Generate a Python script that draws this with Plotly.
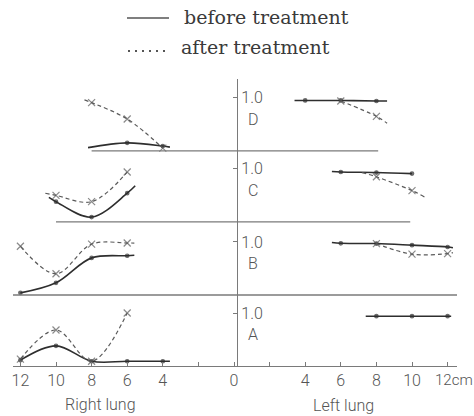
import plotly.graph_objects as go

# ---------------- data (x in cm from midline, y relative to panel baseline, 1.0 = tick) ----------
panels = ["A", "B", "C", "D"]

# Panel A
A_right_before_x = [12, 10, 8, 6, 4, 3.6]
A_right_before_y = [0.11, 0.38, 0.09, 0.09, 0.09, 0.09]
A_right_after_x = [12, 10, 8, 6]
A_right_after_y = [0.13, 0.68, 0.09, 1.0]
A_left_before_x = [7.4, 8, 10, 12, 12.2]
A_left_before_y = [0.94, 0.94, 0.94, 0.94, 0.94]
A_left_after_x = []
A_left_after_y = []

# Panel B
B_right_before_x = [12, 10, 8, 6, 5.6]
B_right_before_y = [0.04, 0.23, 0.70, 0.74, 0.75]
B_right_after_x = [12, 10, 8, 6, 5.6]
B_right_after_y = [0.92, 0.40, 0.96, 0.98, 0.98]
B_left_before_x = [5.5, 6, 8, 10, 12, 12.3]
B_left_before_y = [0.99, 0.975, 0.97, 0.94, 0.905, 0.89]
B_left_after_x = [8, 10, 12, 12.3]
B_left_after_y = [0.97, 0.77, 0.78, 0.80]

# Panel C
C_right_before_x = [10.4, 10, 8, 6, 5.55]
C_right_before_y = [0.46, 0.38, 0.09, 0.54, 0.68]
C_right_after_x = [10.6, 10, 8, 6]
C_right_after_y = [0.54, 0.50, 0.38, 0.94]
C_left_before_x = [5.5, 6, 8, 10]
C_left_before_y = [0.95, 0.94, 0.93, 0.91]
C_left_after_x = [7.2, 8, 10, 10.7]
C_left_after_y = [0.93, 0.85, 0.59, 0.47]

# Panel D
D_right_before_x = [8.2, 6, 4, 3.6]
D_right_before_y = [0.06, 0.15, 0.09, 0.07]
D_right_after_x = [8.4, 8, 6, 4]
D_right_after_y = [0.96, 0.91, 0.60, 0.05]
D_left_before_x = [3.4, 4, 6, 8, 8.6]
D_left_before_y = [0.95, 0.95, 0.95, 0.94, 0.94]
D_left_after_x = [6, 8, 8.6]
D_left_after_y = [0.94, 0.65, 0.52]

# baseline extents (cm): right-lung extent, left-lung extent
baseline_right = {"A": 12.42, "B": 12.42, "C": 10.0, "D": 8.0}
baseline_left = {"A": 12.53, "B": 12.53, "C": 9.9, "D": 8.1}

tick_cm = [-12, -10, -8, -6, -4, -2, 0, 2, 4, 6, 8, 10, 12]
tick_text = ["12", "10", "8", "6", "4", "", "0", "", "4", "6", "8", "10", ""]
last_tick_label = "12cm"

# ---------------- layout constants ----------------
OFFSET = {"A": 0.0, "B": 1.34, "C": 2.72, "D": 4.06}
LINE_DARK = "#2e2e2e"
LINE_DASH = "#5a5a5a"
AXIS_GREY = "#7a7a7a"
TEXT_GREY = "#555555"
NUM_FONT = dict(family="Roboto", size=16, color=TEXT_GREY, weight=300)
PX_PER_CM = 17.8
ZERO_PX = 234.0

data = {
    "A": (A_right_before_x, A_right_before_y, A_right_after_x, A_right_after_y,
          A_left_before_x, A_left_before_y, A_left_after_x, A_left_after_y),
    "B": (B_right_before_x, B_right_before_y, B_right_after_x, B_right_after_y,
          B_left_before_x, B_left_before_y, B_left_after_x, B_left_after_y),
    "C": (C_right_before_x, C_right_before_y, C_right_after_x, C_right_after_y,
          C_left_before_x, C_left_before_y, C_left_after_x, C_left_after_y),
    "D": (D_right_before_x, D_right_before_y, D_right_after_x, D_right_after_y,
          D_left_before_x, D_left_before_y, D_left_after_x, D_left_after_y),
}

fig = go.Figure()


def add_curve(xs, ys, sign, off, after):
    if not xs:
        return
    px = [sign * x for x in xs]
    py = [y + off for y in ys]
    sizes = [(7 if after else 3.5) if float(x).is_integer() else 0 for x in xs]
    fig.add_trace(go.Scatter(
        x=px, y=py, mode="lines+markers",
        line=dict(shape="spline", smoothing=1.0,
                  color=LINE_DASH if after else LINE_DARK,
                  width=1.2 if after else 1.6,
                  dash="4px,3px" if after else "solid"),
        marker=dict(symbol="x-thin" if after else "circle", size=sizes,
                    color=LINE_DASH if after else LINE_DARK,
                    line=dict(width=1.2, color=LINE_DASH if after else LINE_DARK)),
        showlegend=False, hoverinfo="skip", cliponaxis=False,
    ))


for p in panels:
    rbx, rby, rax, ray, lbx, lby, lax, lay = data[p]
    off = OFFSET[p]
    if p != "A":
        fig.add_shape(type="line", xref="x", yref="y",
                      x0=-baseline_right[p], x1=baseline_left[p], y0=off, y1=off,
                      line=dict(color=AXIS_GREY, width=1.3))
    add_curve(rbx, rby, -1, off, False)
    add_curve(rax, ray, -1, off, True)
    add_curve(lbx, lby, 1, off, False)
    add_curve(lax, lay, 1, off, True)
    fig.add_annotation(x=1.05, y=off + 0.6, xref="x", yref="y", text=p, showarrow=False,
                       font=NUM_FONT, xanchor="center", yanchor="middle")

# units -> pixels: 17.8 px per cm, 53 px per unit
fig.update_layout(
    width=474, height=416,
    margin=dict(l=0, r=0, t=0, b=0, autoexpand=False),
    paper_bgcolor="white", plot_bgcolor="white",
    xaxis=dict(domain=[13 / 474, 457 / 474],
               range=[-(ZERO_PX - 13) / PX_PER_CM, (457 - ZERO_PX) / PX_PER_CM],
               showgrid=False, zeroline=False, showline=True,
               linecolor=AXIS_GREY, linewidth=1.3,
               tickmode="array", tickvals=tick_cm, ticktext=tick_text,
               ticks="inside", ticklen=4, tickcolor=AXIS_GREY, tickfont=NUM_FONT,
               anchor="y"),
    yaxis=dict(domain=[50 / 416, 337 / 416], range=[0, 287 / 53],
               showgrid=False, zeroline=False, showline=True,
               linecolor=AXIS_GREY, linewidth=1.3,
               anchor="free", position=237 / 474, side="right",
               tickmode="array", tickvals=[OFFSET[p] + 1.0 for p in panels],
               ticktext=["1.0"] * 4, ticks="inside", ticklen=4, tickcolor=AXIS_GREY,
               tickfont=NUM_FONT),
)

fig.add_annotation(x=1.0, y=1 - 380 / 416, xref="paper", yref="paper", text=last_tick_label,
                   showarrow=False, font=dict(NUM_FONT, size=15), xanchor="right",
                   yanchor="middle", borderpad=0)
fig.add_annotation(x=100 / 474, y=1 - 404 / 416, xref="paper", yref="paper", text="Right lung",
                   showarrow=False, font=NUM_FONT, xanchor="center", yanchor="middle")
fig.add_annotation(x=343 / 474, y=1 - 405 / 416, xref="paper", yref="paper", text="Left lung",
                   showarrow=False, font=NUM_FONT, xanchor="center", yanchor="middle")

# legend (drawn in paper coordinates)
LEG_FONT = dict(family="DejaVu Serif, Liberation Serif", size=19, color="#3a3a3a")
fig.add_shape(type="line", xref="paper", yref="paper",
              x0=127 / 474, x1=169 / 474, y0=1 - 18 / 416, y1=1 - 18 / 416,
              line=dict(color="#555555", width=1.5))
fig.add_shape(type="line", xref="paper", yref="paper",
              x0=128 / 474, x1=168 / 474, y0=1 - 51 / 416, y1=1 - 51 / 416,
              line=dict(color="#555555", width=2, dash="2px,5px"))
fig.add_annotation(x=182 / 474, y=1 - 17 / 416, xref="paper", yref="paper",
                   text="before treatment", showarrow=False, font=LEG_FONT,
                   xanchor="left", yanchor="middle")
fig.add_annotation(x=179 / 474, y=1 - 47 / 416, xref="paper", yref="paper",
                   text="after treatment", showarrow=False, font=LEG_FONT,
                   xanchor="left", yanchor="middle")

fig.write_html("out.html")
